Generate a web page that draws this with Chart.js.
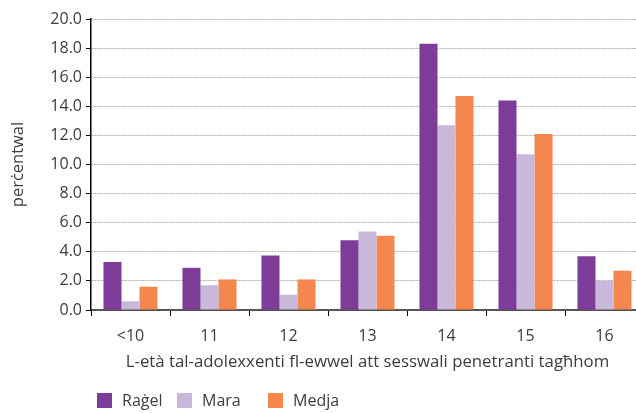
<!DOCTYPE html>
<html>
<head>
<meta charset="utf-8">
<script src="https://cdn.jsdelivr.net/npm/chart.js@4/dist/chart.umd.min.js"></script>
<style>
  html, body { margin: 0; padding: 0; overflow: hidden; background: #fff; }
  #wrap { position: relative; width: 636px; height: 413px; overflow: hidden; }
  #grafiku { position: absolute; left: 0; top: 0; }
  .legenda { position: absolute; top: 391px; display: flex; align-items: center;
    font-family: "Open Sans", sans-serif; font-size: 16px; color: #3c3c3c; line-height: 18px; }
  .legenda .kaxxa { width: 15px; height: 15px; margin-right: 10px; }
</style>
</head>
<body>
<div id="wrap">
  <canvas id="grafiku" width="650" height="413"></canvas>
  <div id="legenda"></div>
</div>
<script>
const kategoriji = ["<10", "11", "12", "13", "14", "15", "16"];
const ragel = [3.3, 2.9, 3.75, 4.8, 18.3, 14.4, 3.7];
const mara = [0.6, 1.7, 1.05, 5.4, 12.7, 10.7, 2.0];
const medja = [1.6, 2.1, 2.1, 5.1, 14.7, 12.1, 2.7];
const yMin = 0;
const yMax = 20;
const yPass = 2;

const vjola = "#7d3c97";
const lilla = "#cab8da";
const oranjo = "#f4874d";
const kulurTest = "#3c3c3c";
const font = "'Open Sans', sans-serif";

const grafiku = new Chart(document.getElementById("grafiku"), {
  type: "bar",
  data: {
    labels: kategoriji,
    datasets: [
      { label: "Raġel", data: ragel, backgroundColor: vjola },
      { label: "Mara", data: mara, backgroundColor: lilla },
      { label: "Medja", data: medja, backgroundColor: oranjo },
    ],
  },
  options: {
    responsive: false,
    animation: false,
    devicePixelRatio: 1,
    categoryPercentage: 0.684,
    barPercentage: 1.0,
    layout: { padding: { top: 19, right: 6, left: 0, bottom: 0 } },
    plugins: { legend: { display: false }, tooltip: { enabled: false } },
    scales: {
      x: {
        z: 1,
        grid: { drawOnChartArea: false, offset: true, tickLength: 6, tickColor: "#000", tickWidth: 1 },
        border: { color: "#555", width: 2 },
        ticks: { font: { family: font, size: 16 }, color: kulurTest, padding: 11 },
        title: {
          display: true,
          text: "L-età tal-adolexxenti fl-ewwel att sesswali penetranti tagħhom",
          font: { family: font, size: 16.8 },
          color: kulurTest,
          padding: { top: 0, bottom: 41 },
        },
        afterFit: (s) => { s.height = 103; },
      },
      y: {
        min: yMin,
        max: yMax,
        ticks: {
          stepSize: yPass,
          callback: (v) => v.toFixed(1),
          font: { family: font, size: 16 },
          color: kulurTest,
          padding: 4,
        },
        grid: { color: "#b0b0b0", tickColor: "#000", tickLength: 5, lineWidth: 1, tickBorderDash: [] },
        border: { color: "#000", width: 1.5, dash: [2, 1] },
        title: {
          display: true,
          text: "perċentwal",
          font: { family: font, size: 16.5 },
          color: kulurTest,
          padding: { top: 8, bottom: 0 },
        },
        afterFit: (s) => { s.width = 91; },
      },
    },
  },
});

// legenda HTML
const legendaX = [97, 177, 268];
const legenda = document.getElementById("legenda");
grafiku.data.datasets.forEach((ds, i) => {
  const el = document.createElement("div");
  el.className = "legenda";
  el.style.left = legendaX[i] + "px";
  el.innerHTML = '<span class="kaxxa" style="background:' + ds.backgroundColor + '"></span>' + ds.label;
  legenda.appendChild(el);
});
</script>
</body>
</html>
